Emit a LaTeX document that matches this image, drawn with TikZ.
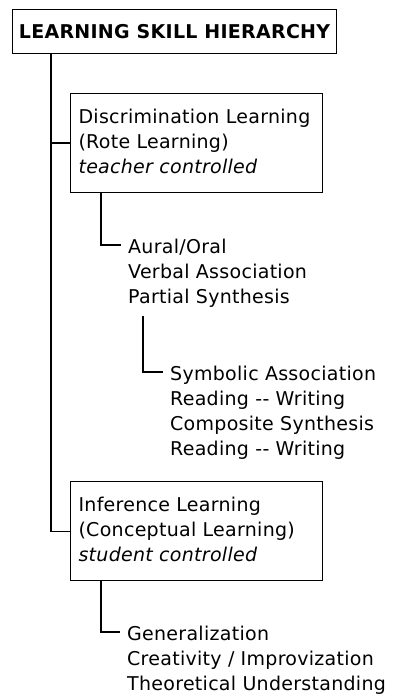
\documentclass[tikz,border=0pt]{standalone}
\usepackage{fontspec}
\setmainfont{DejaVu Sans}[LetterSpace=1.5]
\usepackage{tikz}

\begin{document}
\begin{tikzpicture}[
    x=1pt,y=-1pt,
    box/.style={draw, line width=1.1pt, anchor=north west, align=left,
                minimum width=252pt, minimum height=99pt, text width=236pt,
                inner xsep=8pt, inner ysep=0pt, font=\fontsize{19}{25}\selectfont},
    item/.style={anchor=north west, align=left, inner sep=0pt,
                 font=\fontsize{19}{25}\selectfont},
    l/.style={line width=1.1pt}
]
\useasboundingbox (0,0) rectangle (400,700);

% Title
\node[draw, line width=1.1pt, anchor=north west, minimum width=324pt, minimum height=44pt,
      inner sep=0pt, font=\fontsize{19}{25}\selectfont\bfseries] (title) at (12,9)
      {LEARNING SKILL HIERARCHY};

% Discrimination branch
\node[box] (disc) at (70,93) {\strut Discrimination Learning\\(Rote Learning)\\\textit{teacher controlled}\strut};
\node[item] (aural) at (128,235.5) {\strut Aural/Oral\\Verbal Association\\Partial Synthesis\strut};
\node[item] (symb) at (170,362.5) {\strut Symbolic Association\\Reading -{}- Writing\\Composite Synthesis\\Reading -{}- Writing\strut};

% Inference branch
\node[box] (inf) at (70,481) {\strut Inference Learning\\(Conceptual Learning)\\\textit{student controlled}\strut};
\node[item] (gen) at (127,622.5) {\strut Generalization\\Creativity / Improvization\\Theoretical Understanding\strut};

% Tree lines
\coordinate (trunk) at ([xshift=39pt]title.south west);
\draw[l] (trunk) |- (inf.west);
\draw[l] (trunk |- disc.west) -- (disc.west);
\draw[l] ([xshift=31pt]disc.south west) |- ([xshift=-7pt,yshift=-9.5pt]aural.north west);
\draw[l] ([xshift=15pt,yshift=-5pt]aural.south west) |- ([xshift=-7pt,yshift=-9.5pt]symb.north west);
\draw[l] ([xshift=31pt]inf.south west) |- ([xshift=-7pt,yshift=-9.5pt]gen.north west);
\end{tikzpicture}
\end{document}
